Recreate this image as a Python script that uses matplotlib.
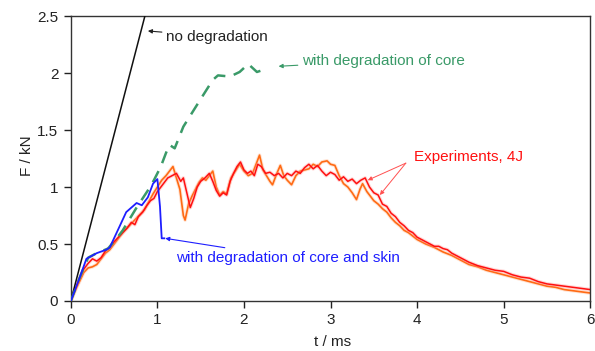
import numpy as np
import matplotlib
matplotlib.use("Agg")
import matplotlib.pyplot as plt
import matplotlib.patheffects as pe

# no degradation (linear, clipped by the axes)
t_nodeg = [0.0, 0.9]
f_nodeg = [0.0, 2.63]

# with degradation of core
t_core = [0.0, 0.1, 0.2, 0.3, 0.43, 0.53, 0.6, 0.76, 0.89, 0.96, 1.04, 1.1, 1.14, 1.2,
          1.3, 1.49, 1.64, 1.7, 1.84, 1.95, 2.05, 2.15, 2.27]
f_core = [0.0, 0.2, 0.38, 0.42, 0.46, 0.55, 0.62, 0.82, 0.97, 1.06, 1.18, 1.3, 1.37, 1.34,
          1.53, 1.76, 1.94, 1.98, 1.97, 2.01, 2.08, 2.01, 2.04]

# with degradation of core and skin
t_skin = [0.0, 0.1, 0.18, 0.3, 0.41, 0.45, 0.53, 0.64, 0.76, 0.82, 0.89, 0.95, 1.0,
          1.03, 1.05, 1.08]
f_skin = [0.0, 0.2, 0.37, 0.42, 0.45, 0.47, 0.6, 0.78, 0.86, 0.84, 0.91, 1.03, 1.07,
          0.83, 0.55, 0.55]

# experiment 1 (red)
t_exp1 = [0, 0.05, 0.1, 0.15, 0.2, 0.25, 0.3, 0.35, 0.4, 0.45, 0.5, 0.55, 0.6, 0.65,
          0.7, 0.74, 0.78, 0.83, 0.88, 0.92, 0.96, 1.0, 1.04, 1.08, 1.12, 1.17, 1.22,
          1.27, 1.3, 1.34, 1.38, 1.42, 1.46, 1.5, 1.55, 1.6, 1.64, 1.68, 1.72, 1.76,
          1.8, 1.84, 1.88, 1.92, 1.96, 2.0, 2.04, 2.08, 2.12, 2.16, 2.2, 2.25, 2.3,
          2.35, 2.4, 2.45, 2.5, 2.55, 2.6, 2.65, 2.7, 2.75, 2.8, 2.85, 2.9, 2.95, 3.0,
          3.05, 3.1, 3.15, 3.2, 3.25, 3.3, 3.35, 3.4, 3.45, 3.5, 3.55, 3.6, 3.65, 3.7,
          3.75, 3.8, 3.85, 3.9, 3.95, 4.0, 4.05, 4.1, 4.15, 4.2, 4.25, 4.3, 4.35, 4.4,
          4.5, 4.6, 4.7, 4.8, 4.9, 5.0, 5.1, 5.2, 5.3, 5.4, 5.5, 5.6, 5.7, 5.8, 5.9, 6.0]
f_exp1 = [0, 0.1, 0.2, 0.28, 0.33, 0.37, 0.35, 0.38, 0.44, 0.47, 0.52, 0.56, 0.6, 0.64,
          0.69, 0.67, 0.74, 0.78, 0.84, 0.88, 0.9, 0.96, 1.0, 1.04, 1.08, 1.1, 1.12,
          1.05, 1.08, 0.95, 0.82, 0.9, 1.0, 1.05, 1.08, 1.12, 1.05, 0.97, 0.92, 0.95,
          0.93, 1.05, 1.12, 1.18, 1.22, 1.15, 1.12, 1.14, 1.1, 1.2, 1.18, 1.12, 1.13,
          1.1, 1.12, 1.08, 1.12, 1.1, 1.14, 1.12, 1.17, 1.2, 1.16, 1.19, 1.14, 1.1, 1.13,
          1.11, 1.06, 1.09, 1.05, 1.07, 1.03, 1.06, 1.08, 1.0, 0.95, 0.93, 0.85, 0.83, 0.77,
          0.74, 0.69, 0.66, 0.62, 0.6, 0.56, 0.54, 0.52, 0.5, 0.48, 0.48, 0.46, 0.45, 0.42,
          0.38, 0.34, 0.31, 0.29, 0.27, 0.26, 0.23, 0.21, 0.2, 0.17, 0.15, 0.14, 0.13, 0.12,
          0.11, 0.1]

# experiment 2 (orange)
t_exp2 = [0, 0.05, 0.1, 0.15, 0.2, 0.25, 0.3, 0.35, 0.4, 0.45, 0.5, 0.55, 0.6, 0.65,
          0.7, 0.75, 0.8, 0.85, 0.9, 0.95, 1.0, 1.05, 1.1, 1.14, 1.18, 1.22, 1.26, 1.3,
          1.32, 1.36, 1.4, 1.44, 1.48, 1.52, 1.56, 1.6, 1.64, 1.68, 1.72, 1.76, 1.8,
          1.85, 1.9, 1.95, 2.0, 2.05, 2.1, 2.15, 2.18, 2.22, 2.26, 2.3, 2.33, 2.38, 2.42,
          2.46, 2.5, 2.55, 2.6, 2.65, 2.7, 2.75, 2.8, 2.85, 2.9, 2.96, 3.0, 3.05, 3.1,
          3.15, 3.2, 3.25, 3.3, 3.34, 3.37, 3.42, 3.46, 3.5, 3.55, 3.6, 3.65, 3.7, 3.75,
          3.8, 3.85, 3.9, 3.95, 4.0, 4.05, 4.1, 4.2, 4.3, 4.4, 4.5, 4.6, 4.7, 4.8, 4.9,
          5.0, 5.1, 5.2, 5.3, 5.4, 5.5, 5.6, 5.7, 5.8, 5.9, 6.0]
f_exp2 = [0, 0.09, 0.17, 0.25, 0.29, 0.3, 0.32, 0.37, 0.42, 0.45, 0.5, 0.55, 0.6, 0.64,
          0.68, 0.72, 0.76, 0.8, 0.87, 0.94, 1.0, 1.06, 1.1, 1.14, 1.18, 1.08, 0.98, 0.75,
          0.71, 0.85, 0.92, 0.98, 1.04, 1.08, 1.06, 1.1, 1.14, 1.0, 0.93, 0.96, 0.94,
          1.08, 1.14, 1.2, 1.14, 1.1, 1.12, 1.22, 1.28, 1.15, 1.1, 1.05, 1.02, 1.12, 1.19,
          1.1, 1.06, 1.02, 1.1, 1.14, 1.15, 1.16, 1.2, 1.18, 1.22, 1.23, 1.2, 1.19, 1.1,
          1.03, 1.0, 0.95, 0.89, 0.98, 1.03, 0.96, 0.92, 0.88, 0.85, 0.81, 0.78, 0.73, 0.69,
          0.66, 0.62, 0.6, 0.57, 0.54, 0.52, 0.5, 0.47, 0.43, 0.4, 0.36, 0.32, 0.3, 0.27,
          0.25, 0.23, 0.21, 0.19, 0.17, 0.15, 0.13, 0.12, 0.1, 0.09, 0.08, 0.07]

x_ticks = [0, 1, 2, 3, 4, 5, 6]
y_ticks = [0, 0.5, 1, 1.5, 2, 2.5]
y_tick_labels = ["0", "0.5", "1", "1.5", "2", "2.5"]

plt.rcParams['font.family'] = ['Liberation Sans', 'DejaVu Sans']

fig = plt.figure(figsize=(5.95, 3.51), dpi=100)
ax = fig.add_axes([0.119, 0.1425, 0.873, 0.8115])

col_red = '#ff1010'
col_orange = '#ff6a14'
col_green = '#3a9a68'
col_blue = '#1e1eff'

halo = lambda c: [pe.Stroke(linewidth=2.6, foreground=c, alpha=0.35), pe.Normal()]

ax.plot(t_exp2, f_exp2, color=col_orange, lw=1.2, path_effects=halo('#ffb080'), zorder=2)
ax.plot(t_exp1, f_exp1, color=col_red, lw=1.1, path_effects=halo('#ff9090'), zorder=2)
ax.plot(t_nodeg, f_nodeg, color='#111111', lw=1.1, zorder=3)
ax.plot(t_core, f_core, color=col_green, lw=1.8, dashes=(5, 3.5), zorder=3)
ax.plot(t_skin, f_skin, color=col_blue, lw=1.3, zorder=4)

ax.set_xlim(0, 6)
ax.set_ylim(0, 2.5)
ax.set_xticks(x_ticks)
ax.set_yticks(y_ticks)
ax.set_yticklabels(y_tick_labels)
ax.tick_params(labelsize=11, length=5, width=1, colors='#222222', pad=4)
for s in ax.spines.values():
    s.set_color('#333333')
    s.set_linewidth(1.0)

ax.set_xlabel("t / ms", fontsize=11, color='#222222')
ax.set_ylabel("F / kN", fontsize=11, color='#222222')
ax.xaxis.set_label_coords(0.503, -0.12)
ax.yaxis.set_label_coords(-0.07, 0.51)

fs = 11
ax.annotate("no degradation", xy=(0.89, 2.37), xytext=(1.1, 2.32), fontsize=fs,
            color='#222222', va='center',
            arrowprops=dict(arrowstyle='-|>', color='#222222', lw=0.8,
                            mutation_scale=6, shrinkA=1, shrinkB=0))
ax.annotate("with degradation of core", xy=(2.4, 2.06), xytext=(2.67, 2.11), fontsize=fs,
            color=col_green, va='center',
            arrowprops=dict(arrowstyle='-|>', color=col_green, lw=0.8,
                            mutation_scale=6, shrinkA=1, shrinkB=0))
ax.annotate("with degradation of core and skin", xy=(1.09, 0.55), xytext=(1.22, 0.38),
            fontsize=fs, color=col_blue, va='center',
            arrowprops=dict(arrowstyle='-|>', color=col_blue, lw=0.8,
                            mutation_scale=6, shrinkA=1, shrinkB=0))
ax.text(3.96, 1.26, "Experiments, 4J", fontsize=fs, color='#ff1010', va='center')
for xy in [(3.43, 1.06), (3.57, 0.93)]:
    ax.annotate("", xy=xy, xytext=(3.87, 1.21),
                arrowprops=dict(arrowstyle='-|>', color='#ff5050', lw=0.7,
                                mutation_scale=6, shrinkA=0, shrinkB=0))

fig.savefig("out.png", dpi=100)
